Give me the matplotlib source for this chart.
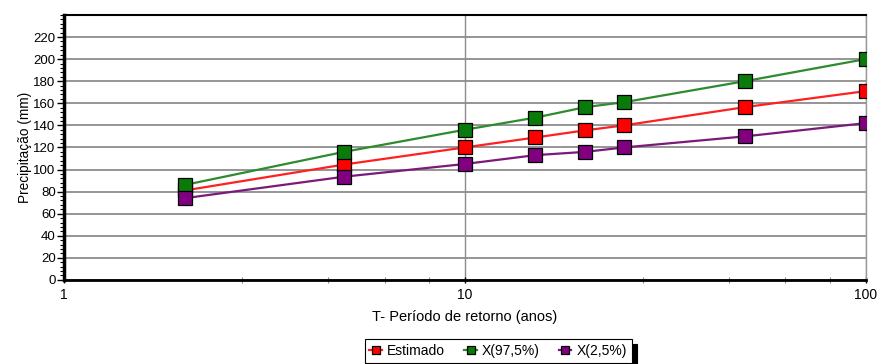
import numpy as np
import matplotlib
matplotlib.use("Agg")
import matplotlib.pyplot as plt
from matplotlib.ticker import FixedLocator, NullFormatter, MultipleLocator

plt.rcParams['font.family'] = ['Liberation Sans', 'DejaVu Sans']

# Return periods (years)
periods = [2, 5, 10, 15, 20, 25, 50, 100]

# Precipitation (mm)
estimado = [81, 104.5, 120, 129, 135.5, 140, 156.5, 171]
x_975 = [86, 116, 136, 147, 156.5, 161, 180, 200]
x_025 = [74, 93.5, 105, 113, 116, 120, 130, 142]

series_labels = ['Estimado', 'X(97,5%)', 'X(2,5%)']
y_ticks = list(range(0, 221, 20))
x_ticks = [1, 10, 100]

fig = plt.figure(figsize=(8.8, 3.64), dpi=100)
ax = fig.add_axes([0.0727, 0.231, 0.911, 0.728])

colors = ['#ff0000', '#0a7a0a', '#800080']
line_colors = ['#ff2020', '#2e8b2e', '#7a1a7a']
for vals, lab, c, lc in zip([estimado, x_975, x_025], series_labels, colors, line_colors):
    ax.plot(periods, vals, color=lc, linewidth=1.6, marker='s', markersize=9.5,
            markerfacecolor=c, markeredgecolor='black', markeredgewidth=0.9,
            label=lab, zorder=3)

ax.set_xscale('log')
ax.set_xlim(1, 100)
ax.set_ylim(0, 240)

ax.xaxis.set_major_locator(FixedLocator(x_ticks))
ax.set_xticklabels([str(t) for t in x_ticks])
minor_x = [d * m for d in (1, 10) for m in (2.78, 4.57, 6.31, 8.13)]
ax.xaxis.set_minor_locator(FixedLocator(minor_x))
ax.xaxis.set_minor_formatter(NullFormatter())

ax.set_yticks(y_ticks)
ax.yaxis.set_minor_locator(MultipleLocator(4))

ax.grid(axis='y', which='major', color='#8c8c8c', linewidth=1.3)
ax.grid(axis='x', which='major', color='#8c8c8c', linewidth=1.0)

ax.tick_params(axis='y', which='major', length=5, width=1, labelsize=9.5, pad=1, direction='out')
ax.tick_params(axis='y', which='minor', length=3, width=0.8, direction='out')
ax.tick_params(axis='x', which='major', length=5, width=1, labelsize=10, pad=3, direction='inout')
ax.tick_params(axis='x', which='minor', length=4, width=0.8, color='#888888', direction='inout')

ax.spines['left'].set_linewidth(2.5)
ax.spines['bottom'].set_linewidth(2.0)
ax.spines['top'].set_linewidth(1.5)
ax.spines['right'].set_linewidth(1.0)
ax.spines['right'].set_color('#999999')

ax.set_ylabel('Precipitação (mm)', fontsize=9.8, labelpad=1)
ax.set_xlabel('T- Período de retorno (anos)', fontsize=10.5, labelpad=6)

handles, labels = ax.get_legend_handles_labels()
leg = fig.legend(handles, labels, loc='upper center', bbox_to_anchor=(0.566, 0.088),
                 ncol=3, fontsize=10, frameon=True, fancybox=False,
                 handlelength=0.9, handletextpad=0.35, columnspacing=1.4,
                 borderpad=0.35, markerscale=0.6,
                 shadow={'color': 'black', 'alpha': 1, 'ox': 4, 'oy': -4})
leg.get_frame().set_edgecolor('black')
leg.get_frame().set_linewidth(0.8)

fig.savefig('out.png', dpi=100, facecolor='white')
